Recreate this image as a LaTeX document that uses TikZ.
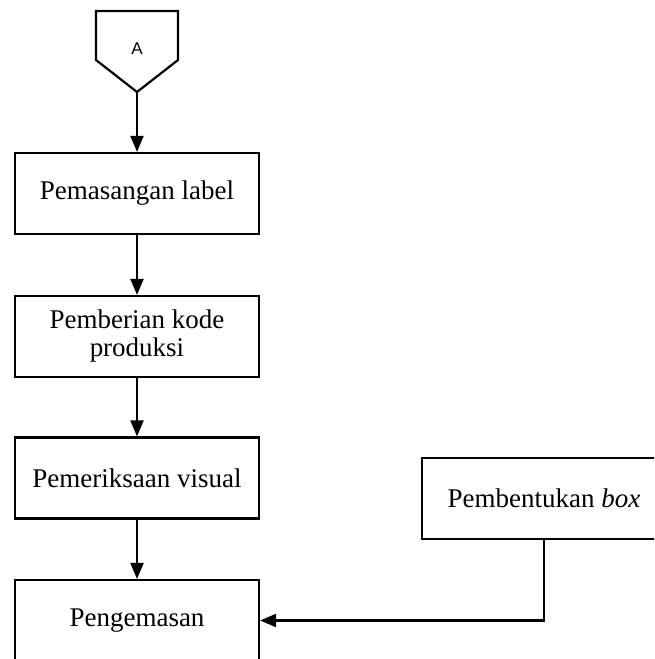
\documentclass[tikz,border=0pt]{standalone}
\usepackage{fontspec}
\setmainfont{Liberation Serif}
\newfontfamily\labelsans{Liberation Sans}
\usetikzlibrary{arrows.meta}
\tikzset{
  procbox/.style={draw, line width=2.2pt, minimum width=244pt, minimum height=81pt, inner sep=0pt, align=center, font=\fontsize{27}{28}\selectfont},
  flow/.style={line width=2.2pt, -{Triangle[width=13pt,length=16pt]}},
  plain/.style={line width=2.2pt}
}
\begin{document}
\begin{tikzpicture}[x=1pt,y=-1pt]
\useasboundingbox (0,0) rectangle (654,659);
\clip (0,0) rectangle (654,659);
% off-page connector
\draw[plain, line join=miter] (96,11) -- (178,11) -- (178,60) -- (137,92) -- (96,60) -- cycle;
\node[font=\labelsans\fontsize{17}{19}\selectfont] (A) at (137,49) {A};
\coordinate (Atip) at (137,92);
% process boxes
\node[procbox] (b1) at (137,193.5) {Pemasangan label};
\node[procbox] (b2) at (137,336.5) {Pemberian kode\\produksi};
\node[procbox] (b3) at (137,478) {Pemeriksaan visual};
\node[procbox] (b4) at (137,620.5) {Pengemasan};
\node[procbox] (b5) at (544,498.5) {Pembentukan \textit{box}};
% connectors
\draw[flow] (Atip) -- (b1.north);
\draw[flow] (b1.south) -- (b2.north);
\draw[flow] (b2.south) -- (b3.north);
\draw[flow] (b3.south) -- (b4.north);
\draw[flow, line join=miter] (b5.south) |- (b4.east);
\end{tikzpicture}
\end{document}
